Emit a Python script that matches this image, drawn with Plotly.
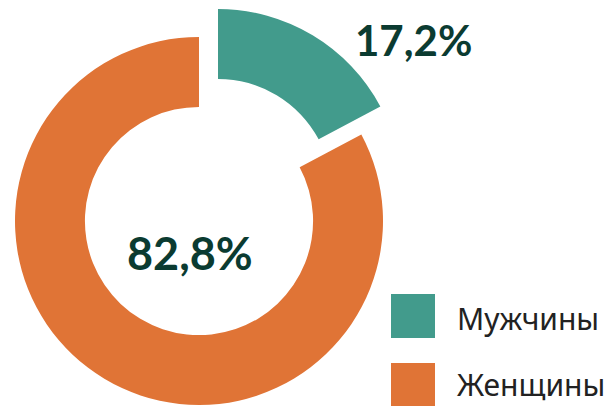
import plotly.graph_objects as go

categories = ["Мужчины", "Женщины"]
values = [17.2, 82.8]
value_labels = ["17,2%", "82,8%"]
colors = ["#429B8C", "#E07436"]

W, H = 611, 406
R = 184
cx, cy = 199, 221          # ring centre (px from top-left)
pdx, pdy = 19, -28         # offset of the pulled slice

def dom(cxp, cyp, r):
    return dict(x=[(cxp - r) / W, (cxp + r) / W],
                y=[(H - cyp - r) / H, (H - cyp + r) / H])

transparent = "rgba(0,0,0,0)"
fig = go.Figure()
# main ring (Женщины)
fig.add_trace(go.Pie(
    labels=categories, values=values, hole=0.62, sort=False,
    direction="clockwise", rotation=0, textinfo="none",
    marker=dict(colors=[transparent, colors[1]], line=dict(width=0)),
    domain=dom(cx, cy, R), showlegend=False, hoverinfo="label+percent"))
# pulled slice (Мужчины)
fig.add_trace(go.Pie(
    labels=categories, values=values, hole=0.62, sort=False,
    direction="clockwise", rotation=0, textinfo="none",
    marker=dict(colors=[colors[0], transparent], line=dict(width=0)),
    domain=dom(cx + pdx, cy + pdy, R), showlegend=False, hoverinfo="label+percent"))

numfont = dict(family="Lato", size=42, color="#0B3B31", weight="bold")
annotations = [
    dict(x=413 / W, y=1 - 40 / H, text=value_labels[0], font=numfont),
    dict(x=190 / W, y=1 - 253 / H, text=value_labels[1], font=dict(numfont, size=45)),
]
shapes = []
leg_y = [316, 385]
text_y = [318, 384]
for i, name in enumerate(categories):
    yc = leg_y[i]
    shapes.append(dict(type="rect", xref="paper", yref="paper",
                       x0=391 / W, x1=435 / W, y0=1 - (yc - 22) / H, y1=1 - (yc + 22) / H,
                       fillcolor=colors[i], line=dict(width=0)))
    annotations.append(dict(x=455 / W, y=1 - text_y[i] / H, text=name, xanchor="left",
                            font=dict(family="Noto Sans", size=30, color="#222222")))
for a in annotations:
    a.update(xref="paper", yref="paper", showarrow=False)
    a.setdefault("xanchor", "center")
    a.setdefault("yanchor", "middle")

fig.update_layout(width=W, height=H, margin=dict(l=0, r=0, t=0, b=0),
                  paper_bgcolor="white", plot_bgcolor="white",
                  annotations=annotations, shapes=shapes)
fig.write_html("out.html", config={"displayModeBar": False},
               post_script="document.body.style.margin='0';")
